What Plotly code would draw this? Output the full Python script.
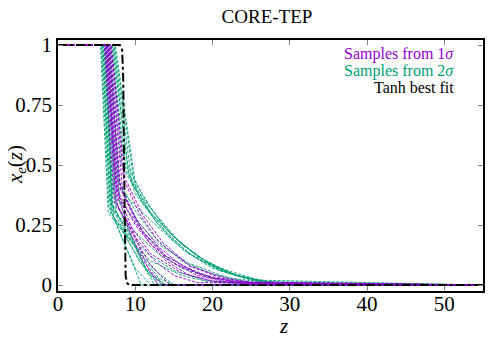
import plotly.graph_objects as go

# Samples drawn from the 2-sigma region: (z nodes, x_e values)
SAMPLES_2SIGMA = [
    ([0, 5.6, 6.6, 10, 13, 16, 20, 25, 30, 55], [1, 1, 0.32, 0.22, 0.13, 0.07, 0.03, 0.008, 0, 0]),
    ([0, 5.8, 6.9, 11, 13.5, 55], [1, 1, 0.30, 0.08, 0, 0]),
    ([0, 6.0, 7.0, 12.5, 55], [1, 1, 0.34, 0, 0]),
    ([0, 6.2, 7.4, 10, 12, 15, 18, 22, 27, 55], [1, 1, 0.42, 0.33, 0.27, 0.18, 0.11, 0.05, 0.01, 0]),
    ([0, 6.6, 8.2, 10, 13, 16, 20, 24, 29, 55], [1, 1, 0.5, 0.4, 0.28, 0.17, 0.08, 0.03, 0.004, 0]),
    ([0, 7.2, 9.6, 12, 15, 19, 23, 28, 55], [1, 1, 0.42, 0.3, 0.2, 0.1, 0.04, 0.008, 0]),
    ([0, 7.4, 10.2, 13, 16, 20, 25, 30, 55], [1, 1, 0.38, 0.25, 0.15, 0.07, 0.02, 0, 0]),
    ([0, 5.7, 6.7, 8.5, 10.5, 12, 14, 55], [1, 1, 0.35, 0.22, 0.1, 0.05, 0, 0]),
    ([0, 6.4, 7.6, 9, 11, 14, 18, 22, 55], [1, 1, 0.45, 0.35, 0.22, 0.12, 0.05, 0.01, 0]),
    ([0, 6.1, 7.2, 10.8, 55], [1, 1, 0.28, 0, 0]),
    ([0, 6.9, 8.8, 11, 14, 17, 21, 26, 55], [1, 1, 0.48, 0.34, 0.22, 0.13, 0.06, 0.015, 0]),
    ([0, 5.9, 7.0, 9.5, 12, 15, 19, 24, 55], [1, 1, 0.33, 0.2, 0.12, 0.06, 0.02, 0.003, 0]),
    ([0, 6.3, 7.3, 11.5, 14, 55], [1, 1, 0.36, 0.05, 0, 0]),
    ([0, 6.8, 8.4, 10, 13, 17, 21, 27, 55], [1, 1, 0.55, 0.38, 0.25, 0.13, 0.06, 0.01, 0]),
    ([0, 7.0, 9.2, 12, 16, 20, 26, 55], [1, 1, 0.46, 0.3, 0.17, 0.08, 0.02, 0]),
    ([0, 6.5, 7.5, 9, 13, 15, 55], [1, 1, 0.31, 0.2, 0.03, 0, 0]),
    ([0, 5.5, 6.5, 9, 12, 16, 20, 55], [1, 1, 0.3, 0.2, 0.1, 0.04, 0.01, 0]),
    ([0, 6.0, 7.1, 9.8, 13, 17, 22, 28, 55], [1, 1, 0.38, 0.28, 0.17, 0.09, 0.03, 0.005, 0]),
    ([0, 6.7, 8.0, 9.5, 11.5, 13, 55], [1, 1, 0.35, 0.2, 0.06, 0, 0]),
    ([0, 7.1, 9.0, 11, 14, 18, 23, 29, 55], [1, 1, 0.5, 0.37, 0.23, 0.12, 0.04, 0.005, 0]),
    ([0, 6.2, 7.0, 8.5, 10, 12, 55], [1, 1, 0.3, 0.18, 0.07, 0, 0]),
    ([0, 6.6, 7.9, 10, 12.5, 16, 20, 25, 55], [1, 1, 0.43, 0.31, 0.2, 0.1, 0.045, 0.01, 0]),
    ([0, 5.8, 6.8, 9.2, 11, 13, 15, 55], [1, 1, 0.3, 0.2, 0.12, 0.05, 0, 0]),
    ([0, 7.3, 9.8, 12, 15, 18, 22, 27, 55], [1, 1, 0.44, 0.32, 0.2, 0.12, 0.05, 0.01, 0]),
]

# Samples drawn from the 1-sigma region
SAMPLES_1SIGMA = [
    ([0, 6.2, 7.6, 10, 12, 15, 19, 24, 55], [1, 1, 0.4, 0.25, 0.17, 0.09, 0.035, 0.005, 0]),
    ([0, 6.5, 8.0, 10, 13, 16, 20, 25, 55], [1, 1, 0.42, 0.28, 0.16, 0.08, 0.03, 0.004, 0]),
    ([0, 6.7, 8.4, 11, 14, 18, 22, 55], [1, 1, 0.38, 0.22, 0.11, 0.04, 0.01, 0]),
    ([0, 6.4, 7.8, 9.5, 12, 14.5, 55], [1, 1, 0.36, 0.22, 0.08, 0, 0]),
    ([0, 6.8, 8.5, 10.5, 13, 17, 21, 26, 55], [1, 1, 0.44, 0.3, 0.18, 0.08, 0.03, 0.004, 0]),
    ([0, 6.3, 7.7, 10, 12.5, 15, 18, 55], [1, 1, 0.33, 0.2, 0.1, 0.04, 0.01, 0]),
    ([0, 6.6, 8.1, 10.5, 14, 18, 23, 55], [1, 1, 0.4, 0.24, 0.12, 0.05, 0.01, 0]),
    ([0, 6.1, 7.5, 9, 11, 13.5, 55], [1, 1, 0.35, 0.24, 0.1, 0, 0]),
    ([0, 6.0, 7.3, 9.5, 12, 16, 20, 55], [1, 1, 0.34, 0.24, 0.13, 0.05, 0.015, 0]),
    ([0, 6.9, 8.6, 11, 13.5, 17, 22, 27, 55], [1, 1, 0.45, 0.29, 0.18, 0.08, 0.025, 0.003, 0]),
    ([0, 6.5, 7.9, 10, 11.5, 13, 55], [1, 1, 0.37, 0.2, 0.08, 0, 0]),
    ([0, 6.3, 7.6, 9.8, 12, 14, 17, 21, 55], [1, 1, 0.38, 0.27, 0.17, 0.1, 0.04, 0.01, 0]),
]

TANH_Z = [0, 8.0, 8.3, 8.45, 8.55, 8.65, 8.75, 8.9, 9.2, 55]
TANH_XE = [1, 1, 0.98, 0.85, 0.5, 0.15, 0.04, 0.01, 0, 0]

X_TICKS = [0, 10, 20, 30, 40, 50]
Y_TICKS = [0, 0.25, 0.5, 0.75, 1]
Y_TICK_TEXT = ["0", "0.25", "0.5", "0.75", "1"]

GREEN = "#009E73"
PURPLE = "#9400D3"
SERIF = "Liberation Serif"

# the page body adds an 8px margin around the figure
OFF = 8
W, H = 500 - OFF, 350 - OFF
# plot area in window pixels
PL, PR, PT, PB = 58, 483, 40, 291

fig = go.Figure()

for z, xe in SAMPLES_2SIGMA:
    fig.add_trace(go.Scatter(x=z, y=xe, mode="lines",
                             line={"color": GREEN, "width": 0.9, "dash": "3px,1.5px"},
                             showlegend=False, hoverinfo="skip"))

for z, xe in SAMPLES_1SIGMA:
    fig.add_trace(go.Scatter(x=z, y=xe, mode="lines",
                             line={"color": PURPLE, "width": 0.9, "dash": "3px,1.5px"},
                             showlegend=False, hoverinfo="skip"))

fig.add_trace(go.Scatter(x=TANH_Z, y=TANH_XE, mode="lines",
                         line={"color": "black", "width": 2, "dash": "dashdot"},
                         showlegend=False, hoverinfo="skip"))


def px_x(x):
    return (x - PL) / (PR - PL)


def px_y(y):
    return 1 - (y - PT) / (PB - PT)


legend_items = [
    ("Samples from 1<i>σ</i>", PURPLE, 54, "Liberation Serif"),
    ("Samples from 2<i>σ</i>", GREEN, 71, "Times New Roman"),
    ("Tanh best fit", "black", 87, "Liberation Serif, serif"),
]
for text, color, ypx, fam in legend_items:
    fig.add_annotation(text=text, xref="paper", yref="paper",
                       x=px_x(456), y=px_y(ypx),
                       xanchor="right", yanchor="middle", showarrow=False,
                       font={"family": fam, "size": 16, "color": color})

# axis titles
fig.add_annotation(text="<i>z</i>", xref="paper", yref="paper",
                   x=px_x(283), y=px_y(326), xanchor="center", yanchor="middle",
                   showarrow=False, font={"family": SERIF, "size": 21, "color": "black"})
fig.add_annotation(text="<i>x<sub>e</sub></i>(<i>z</i>)", xref="paper", yref="paper",
                   x=px_x(16), y=px_y(165), xanchor="center", yanchor="middle",
                   textangle=-90, showarrow=False,
                   font={"family": SERIF, "size": 21, "color": "black"})

axis_common = dict(
    showline=True, linecolor="black", linewidth=1.5, mirror="ticks",
    ticks="inside", ticklen=5, tickcolor="#888888",
    showgrid=False, zeroline=False, automargin=False,
    tickfont={"family": SERIF, "size": 21, "color": "black"},
)

fig.update_xaxes(range=[0, 55], tickvals=X_TICKS, ticklabelstandoff=-7, **axis_common)
fig.update_yaxes(range=[-0.025, 1.021], tickvals=Y_TICKS, ticktext=Y_TICK_TEXT,
                 **axis_common)

fig.update_layout(
    width=W, height=H,
    margin={"l": PL - OFF, "r": 500 - PR, "t": PT - OFF, "b": 350 - PB},
    paper_bgcolor="white", plot_bgcolor="white",
    title={"text": "CORE-TEP", "x": (267 - OFF) / W, "xanchor": "center",
           "y": 1 - (16 - OFF) / H, "yanchor": "middle",
           "font": {"family": SERIF, "size": 19, "color": "black"}},
)

fig.write_html("out.html")
